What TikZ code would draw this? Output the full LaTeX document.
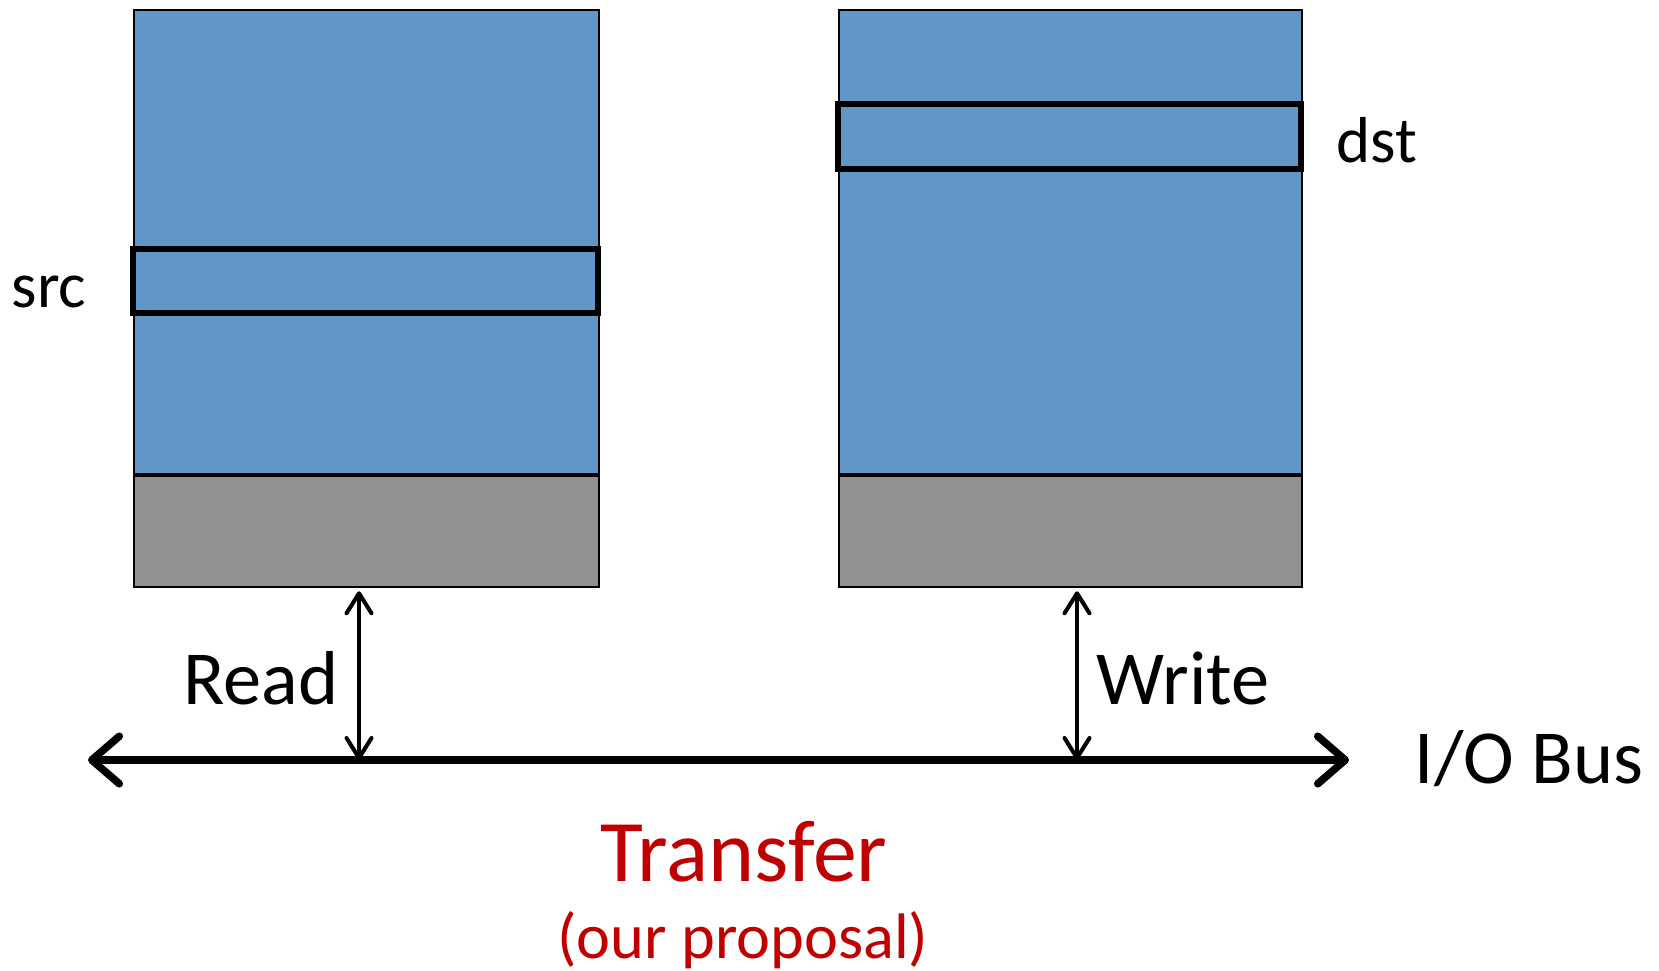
\documentclass[tikz,border=0pt]{standalone}
\usepackage{fontspec}
\setmainfont{Carlito}
\usepackage{xcolor}
\usepackage{tikz}
\usetikzlibrary{positioning,arrows.meta,calc}

\definecolor{memblue}{RGB}{97,150,199}
\definecolor{memgray}{RGB}{145,145,145}
\definecolor{xferred}{RGB}{192,0,0}

\begin{document}
\begin{tikzpicture}[
    x=0.02cm, y=-0.02cm,
    memblk/.style={rectangle, draw, line width=1.1pt, fill=memblue, minimum width=9.3cm, minimum height=9.28cm, anchor=north west, inner sep=0pt},
    ioblk/.style={rectangle, draw, line width=1.1pt, fill=memgray, minimum width=9.3cm, minimum height=2.22cm, anchor=north west, inner sep=0pt},
    rowblk/.style={rectangle, draw, line width=3.4pt, fill=memblue, minimum width=9.3cm, minimum height=1.28cm, inner sep=0pt},
    lbl/.style={font=\fontsize{37}{44}\selectfont, text=black, anchor=base, inner sep=0pt},
    oplbl/.style={font=\fontsize{43.5}{52}\selectfont, text=black, anchor=base, inner sep=0pt},
    xfer/.style={font=\fontsize{50}{60}\selectfont, text=xferred, anchor=base, inner sep=0pt},
    xfersub/.style={font=\fontsize{36.6}{44}\selectfont, text=xferred, anchor=base, inner sep=0pt},
    busarr/.style={{Straight Barb[length=0.55cm, width=0.95cm, line cap=round, round]}-{Straight Barb[length=0.55cm, width=0.95cm, line cap=round, round]}, line width=4.3pt},
    rwarr/.style={{Straight Barb[length=0.4cm, width=0.5cm, line cap=round, round]}-{Straight Barb[length=0.4cm, width=0.5cm, line cap=round, round]}, line width=2.3pt}
]
\useasboundingbox (0,0) rectangle (1659,970);

% ============================================================
% MEMORY BLOCKS
% ============================================================
\node[memblk] (srcmem) at (133,9) {};
\node[ioblk]  (srcio)  at (srcmem.south west) {};
\node[memblk, minimum width=9.26cm] (dstmem) at (838,9) {};
\node[ioblk,  minimum width=9.26cm] (dstio)  at (dstmem.south west) {};

\node[rowblk] (srcrow) at (365.5,281) {};
\node[rowblk, minimum width=9.26cm, minimum height=1.3cm] (dstrow) at (1069.5,136.5) {};

\node[lbl] (srclbl) at (49,307)   {src};
\node[lbl] (dstlbl) at (1377,162) {dst};

% ============================================================
% BUS
% ============================================================
\coordinate (busL) at (88,760);
\coordinate (busR) at (1349,760);
\coordinate (rdpt) at (359,760);
\coordinate (wrpt) at (1077,760);

\draw[busarr] (busL) -- (busR);
\draw[rwarr] ([yshift=-0.07cm]srcio.south -| rdpt) -- (rdpt);
\draw[rwarr] ([yshift=-0.07cm]dstio.south -| wrpt) -- (wrpt);

\node[oplbl] (rdlbl)  at (261,704)  {Read};
\node[oplbl] (wrlbl)  at (1183,704) {Write};
\node[oplbl] (buslbl) at (1529,783) {I/O Bus};

\node[xfer]    (xferlbl) at (744,881) {Transfer};
\node[xfersub] (xfersub) at (743,958) {(our proposal)};

\end{tikzpicture}
\end{document}
